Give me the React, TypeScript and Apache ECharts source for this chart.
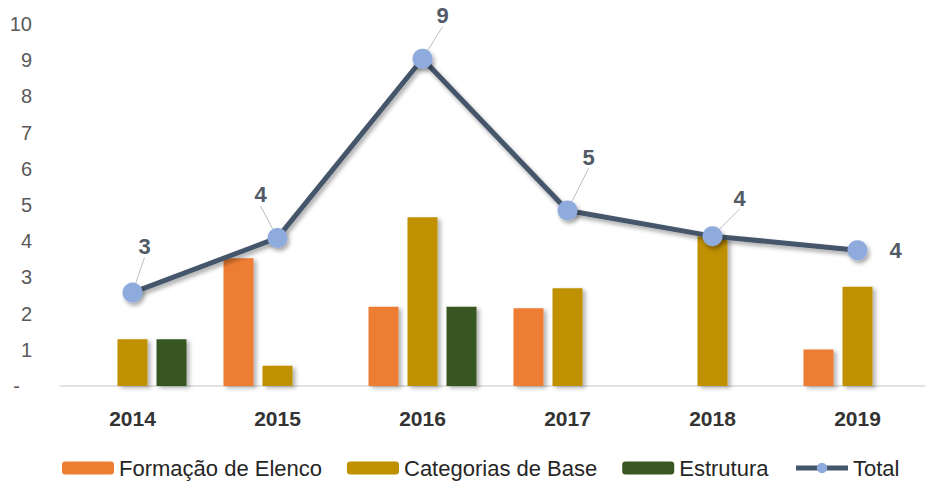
import React, { useEffect, useRef } from "react";
import * as echarts from "echarts";

const categories = ["2014", "2015", "2016", "2017", "2018", "2019"];
const formacaoElenco = [null, 3.53, 2.19, 2.15, null, 1.01];
const categoriasBase = [1.29, 0.56, 4.66, 2.7, 4.14, 2.74];
const estrutura = [1.29, null, 2.19, null, null, null];
const total = [2.58, 4.09, 9.04, 4.85, 4.14, 3.75];
const yTicks = [0, 1, 2, 3, 4, 5, 6, 7, 8, 9, 10];

// label displacement (px) of the Total data labels relative to default "top" position
const labelShift = [
  [12, -20],
  [-17, -17],
  [20, -17],
  [21, -27],
  [27, -12],
  [38, 26],
];
const noLeader = [false, false, false, false, false, true];

const FONT = "'Liberation Sans', Arial, sans-serif";

export default function App() {
  const ref = useRef<HTMLDivElement>(null);
  useEffect(() => {
    if (!ref.current) return;
    const chart = echarts.init(ref.current, undefined, { renderer: "svg" });
    const barShadow = {
      shadowBlur: 4,
      shadowOffsetX: 3,
      shadowOffsetY: 2,
      shadowColor: "rgba(0,0,0,0.3)",
    };
    chart.setOption({
      animation: false,
      backgroundColor: "#ffffff",
      grid: { left: 60, width: 870, top: 24, bottom: 95, outerBoundsMode: "none" },
      legend: {
        top: 452,
        left: 57,
        itemWidth: 52,
        itemHeight: 13,
        itemGap: 25,
        textStyle: { fontFamily: FONT, fontSize: 22, color: "#262626" },
        data: [
          "Formação de Elenco",
          "Categorias de Base",
          "Estrutura",
          {
            name: "Total",
            lineStyle: { width: 5, color: "#44546a" },
            itemStyle: { color: "#8faadc" },
          },
        ],
      },
      xAxis: {
        type: "category",
        data: categories,
        axisLine: { lineStyle: { color: "#d9d9d9", width: 1.5 } },
        axisTick: { show: false },
        axisLabel: {
          fontFamily: FONT,
          fontWeight: "bold",
          fontSize: 21,
          color: "#333333",
          margin: 22,
        },
      },
      yAxis: {
        type: "value",
        min: yTicks[0],
        max: yTicks[yTicks.length - 1],
        interval: 1,
        splitLine: { show: false },
        axisLine: { show: false },
        axisTick: { show: false },
        axisLabel: {
          fontFamily: FONT,
          fontSize: 20,
          color: "#595959",
          margin: 28,
          formatter: (v: number) => (v === 0 ? "{d|-}" : String(v)),
          rich: {
            d: { fontFamily: FONT, fontSize: 20, color: "#595959", padding: [0, 12, 0, 0] },
          },
        },
      },
      series: [
        {
          name: "Formação de Elenco",
          type: "bar",
          data: formacaoElenco,
          barWidth: 30,
          barGap: "30%",
          itemStyle: { color: "#ed7d31", ...barShadow },
        },
        {
          name: "Categorias de Base",
          type: "bar",
          data: categoriasBase,
          barWidth: 30,
          barGap: "30%",
          itemStyle: { color: "#bf9000", ...barShadow },
        },
        {
          name: "Estrutura",
          type: "bar",
          data: estrutura,
          barWidth: 30,
          barGap: "30%",
          itemStyle: { color: "#385723", ...barShadow },
        },
        {
          name: "Total",
          type: "line",
          data: total.map((v, i) =>
            noLeader[i] ? { value: v, labelLine: { show: false } } : v
          ),
          symbol: "circle",
          symbolSize: 20,
          z: 5,
          lineStyle: {
            color: "#44546a",
            width: 5,
            shadowBlur: 4,
            shadowOffsetX: 2,
            shadowOffsetY: 3,
            shadowColor: "rgba(0,0,0,0.35)",
          },
          itemStyle: {
            color: "#8faadc",
            shadowBlur: 4,
            shadowOffsetX: 2,
            shadowOffsetY: 3,
            shadowColor: "rgba(0,0,0,0.35)",
          },
          label: {
            show: true,
            position: "top",
            distance: 5,
            fontFamily: FONT,
            fontWeight: "bold",
            fontSize: 22,
            color: "#525a66",
            formatter: (p: any) => String(Math.round(p.value)),
          },
          labelLine: {
            show: true,
            lineStyle: { color: "#bfbfbf", width: 1 },
          },
          labelLayout: (params: any) => {
            const s = labelShift[params.dataIndex] || [0, 0];
            return { dx: s[0], dy: s[1] };
          },
        },
      ],
    });
    return () => chart.dispose();
  }, []);
  return (
    <div
      ref={ref}
      style={{ position: "fixed", left: 0, top: 0, width: 925, height: 481 }}
    />
  );
}
